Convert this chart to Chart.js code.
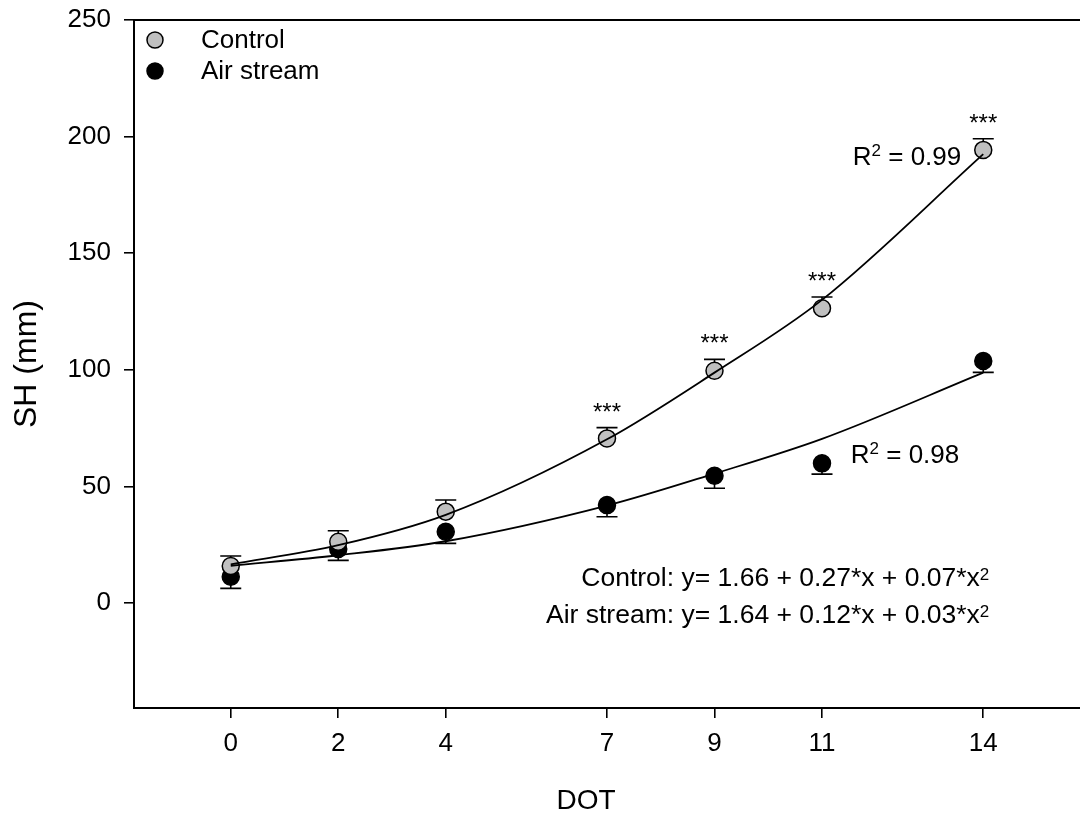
<!DOCTYPE html>
<html>
<head>
<meta charset="utf-8">
<title>SH by DOT</title>
<script src="https://cdn.jsdelivr.net/npm/chart.js@4.4.1/dist/chart.umd.min.js"></script>
<style>
  html, body { margin: 0; padding: 0; background: #fff; }
  #wrap { width: 1080px; height: 818px; overflow: hidden; }
</style>
</head>
<body>
<div id="wrap"><canvas id="chart" width="1080" height="818"></canvas></div>
<script>
// Sampling days
const days = [0, 2, 4, 7, 9, 11, 14];

// Mean SH (mm) and standard error per group
const controlMean = [15.9, 26.3, 39.2, 70.6, 99.6, 126.4, 194.3];
const controlErr  = [4.3, 4.7, 5.0, 4.6, 4.9, 4.8, 4.8];
const airMean     = [11.3, 23.2, 30.6, 42.0, 54.6, 59.9, 103.8];
const airErr      = [5.0, 4.9, 5.0, 5.0, 5.4, 4.6, 4.9];

// Significance marks over control points
const sigMarks = ['', '', '', '***', '***', '***', '***'];

// Quadratic regression curves, read at each sampling day
const controlFit = [16.6, 24.8, 37.8, 70.2, 98.8, 130.0, 192.5];
const airFit     = [16.0, 20.5, 26.5, 41.8, 55.5, 70.4, 98.8];

// Axis ticks
const xTicks = [0, 2, 4, 7, 9, 11, 14];
const yTicks = [0, 50, 100, 150, 200, 250];

const FONT = '"Liberation Sans", Arial, sans-serif';

const pts = (xs, ys) => xs.map((x, i) => ({ x: x, y: ys[i] }));

// Draws text with superscript parts, right aligned at x, baseline y
function drawRich(ctx, parts, x, y, size, supSize, raise) {
  let total = 0;
  parts.forEach(p => {
    ctx.font = (p.sup ? supSize : size) + 'px ' + FONT;
    p.w = ctx.measureText(p.t).width;
    total += p.w;
  });
  let cx = x - total;
  ctx.textAlign = 'left';
  ctx.textBaseline = 'alphabetic';
  parts.forEach(p => {
    ctx.font = (p.sup ? supSize : size) + 'px ' + FONT;
    ctx.fillText(p.t, cx, p.sup ? y - raise : y);
    cx += p.w;
  });
}

const extras = {
  id: 'extras',
  beforeDatasetsDraw(chart) {
    const { ctx, scales: { x, y } } = chart;
    ctx.save();
    ctx.strokeStyle = '#000';
    ctx.lineWidth = 1.6;
    const bars = [
      { mean: controlMean, err: controlErr, dir: 1 },
      { mean: airMean, err: airErr, dir: -1 }
    ];
    bars.forEach(b => {
      days.forEach((d, i) => {
        const px = x.getPixelForValue(d);
        const y0 = y.getPixelForValue(b.mean[i]);
        const y1 = y.getPixelForValue(b.mean[i] + b.dir * b.err[i]);
        ctx.beginPath();
        ctx.moveTo(px, y0);
        ctx.lineTo(px, y1);
        ctx.moveTo(px - 10.5, y1);
        ctx.lineTo(px + 10.5, y1);
        ctx.stroke();
      });
    });
    ctx.restore();
  },
  afterDraw(chart) {
    const { ctx, chartArea: a, scales: { x, y } } = chart;
    ctx.save();
    ctx.fillStyle = '#000';

    // top frame line
    ctx.strokeStyle = '#000';
    ctx.lineWidth = 2;
    ctx.beginPath();
    ctx.moveTo(a.left, a.top);
    ctx.lineTo(a.right, a.top);
    ctx.stroke();

    // legend
    const legend = [
      { label: 'Control', fill: '#c0c0c0' },
      { label: 'Air stream', fill: '#000' }
    ];
    legend.forEach((l, i) => {
      const ly = a.top + 20 + i * 31;
      ctx.beginPath();
      ctx.arc(a.left + 21, ly, 8, 0, Math.PI * 2);
      ctx.fillStyle = l.fill;
      ctx.fill();
      ctx.lineWidth = 1.5;
      ctx.stroke();
      ctx.fillStyle = '#000';
      ctx.font = '26px ' + FONT;
      ctx.textAlign = 'left';
      ctx.textBaseline = 'middle';
      ctx.fillText(l.label, a.left + 67, ly + 1);
    });

    // significance marks
    ctx.font = '24px ' + FONT;
    ctx.textAlign = 'center';
    ctx.textBaseline = 'alphabetic';
    days.forEach((d, i) => {
      if (!sigMarks[i]) return;
      const cap = y.getPixelForValue(controlMean[i] + controlErr[i]);
      ctx.fillText(sigMarks[i], x.getPixelForValue(d), cap - 8);
    });

    // R squared labels
    const x14 = x.getPixelForValue(14);
    drawRich(ctx, [{ t: 'R' }, { t: '2', sup: true }, { t: ' = 0.99' }],
      x14 - 22, y.getPixelForValue(188), 26, 17, 9);
    drawRich(ctx, [{ t: 'R' }, { t: '2', sup: true }, { t: ' = 0.98' }],
      x14 - 24, y.getPixelForValue(60.2), 26, 17, 9);

    // regression equations
    drawRich(ctx, [{ t: 'Control: y= 1.66 + 0.27*x + 0.07*x' }, { t: '2', sup: true }],
      x14 + 6, y.getPixelForValue(7.1), 26.5, 17, 6);
    drawRich(ctx, [{ t: 'Air stream: y= 1.64 + 0.12*x + 0.03*x' }, { t: '2', sup: true }],
      x14 + 6, y.getPixelForValue(-8.6), 26.5, 17, 6);

    // x axis title
    ctx.font = '28px ' + FONT;
    ctx.textAlign = 'center';
    ctx.textBaseline = 'middle';
    ctx.fillText('DOT', 586, 801);
    ctx.restore();
  }
};

// Fixed axis boxes, no extra label padding around the plot area
const fixBox = size => axis => {
  if (axis.isHorizontal()) axis.height = size; else axis.width = size;
  axis.paddingTop = 0;
  axis.paddingBottom = 0;
  axis.paddingLeft = 0;
  axis.paddingRight = 0;
};

new Chart(document.getElementById('chart'), {
  type: 'scatter',
  data: {
    datasets: [
      {
        label: 'Control fit',
        data: pts(days, controlFit),
        showLine: true,
        borderColor: '#000',
        borderWidth: 1.8,
        pointRadius: 0,
        cubicInterpolationMode: 'monotone',
        order: 0
      },
      {
        label: 'Air stream fit',
        data: pts(days, airFit),
        showLine: true,
        borderColor: '#000',
        borderWidth: 1.8,
        pointRadius: 0,
        cubicInterpolationMode: 'monotone',
        order: 0
      },
      {
        label: 'Control',
        data: pts(days, controlMean),
        backgroundColor: '#c0c0c0',
        borderColor: '#000',
        borderWidth: 1.5,
        pointRadius: 8.5,
        order: 1
      },
      {
        label: 'Air stream',
        data: pts(days, airMean),
        backgroundColor: '#000',
        borderColor: '#000',
        borderWidth: 1.5,
        pointRadius: 8.5,
        order: 1
      }
    ]
  },
  options: {
    responsive: false,
    animation: false,
    layout: { autoPadding: false, padding: { top: 20, right: 0, left: 0, bottom: 0 } },
    plugins: {
      legend: { display: false },
      tooltip: { enabled: false }
    },
    scales: {
      x: {
        type: 'linear',
        min: -1.8,
        max: 15.8,
        afterBuildTicks: axis => { axis.ticks = xTicks.map(v => ({ value: v })); },
        afterFit: fixBox(110),
        grid: { drawOnChartArea: false, drawTicks: true, tickLength: 10, color: '#000', lineWidth: 1.6 },
        border: { color: '#000', width: 2 },
        ticks: { color: '#000', padding: 10, font: { family: FONT, size: 26 }, maxRotation: 0 }
      },
      y: {
        type: 'linear',
        min: -45,
        max: 250,
        afterBuildTicks: axis => { axis.ticks = yTicks.map(v => ({ value: v })); },
        afterFit: fixBox(134),
        grid: { drawOnChartArea: false, drawTicks: true, tickLength: 10, color: '#000', lineWidth: 1.6 },
        border: { color: '#000', width: 2 },
        ticks: { color: '#000', padding: 13, font: { family: FONT, size: 26 } },
        title: {
          display: true,
          text: 'SH (mm)',
          color: '#000',
          font: { family: FONT, size: 32 },
          padding: { top: 8, bottom: 0 }
        }
      }
    }
  },
  plugins: [extras]
});
</script>
</body>
</html>
